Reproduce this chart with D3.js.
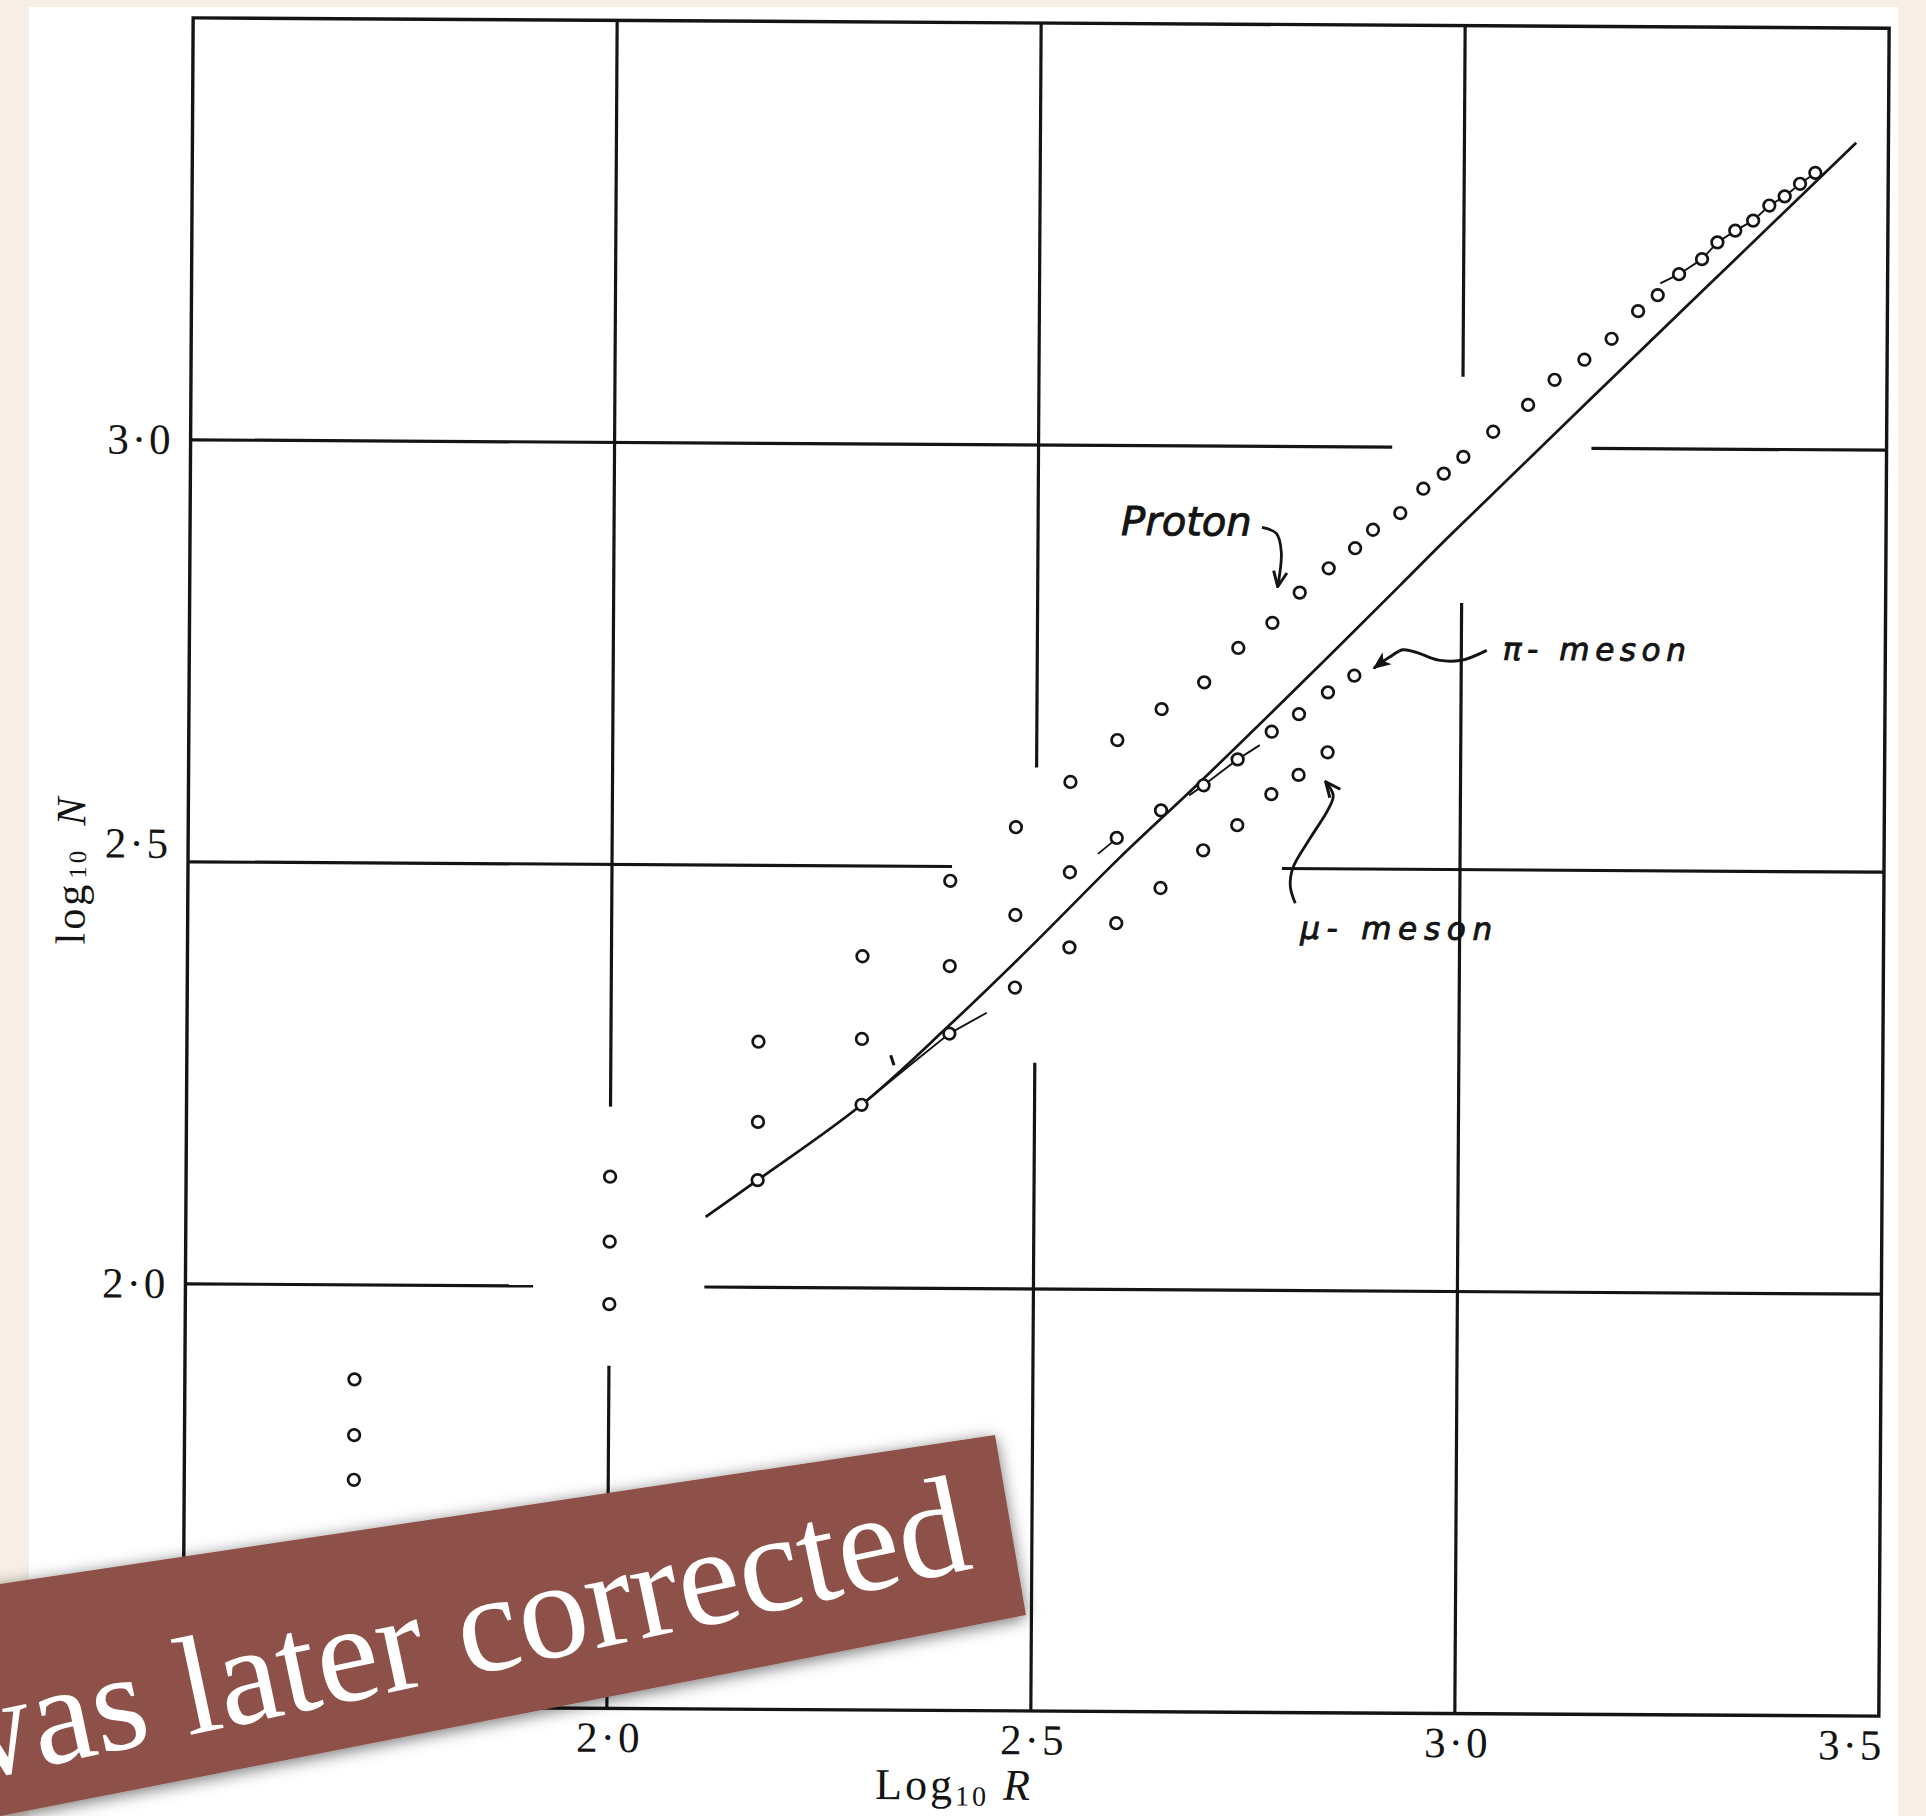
<!DOCTYPE html>
<html>
<head>
<meta charset="utf-8">
<script src="https://cdn.jsdelivr.net/npm/d3@7"></script>
<style>
  html, body { margin: 0; padding: 0; background: #f7efe5; }
  svg { display: block; }
</style>
</head>
<body>
<div id="chart"></div>
<script>
// values (log10 R, log10 N)
const rangeR = [1.70, 2.00, 2.174, 2.296, 2.399, 2.476, 2.540, 2.595, 2.647, 2.697, 2.737, 2.777, 2.809, 2.843, 2.874,
                2.895, 2.927, 2.954, 2.978, 3.001, 3.036, 3.077, 3.108, 3.143, 3.175, 3.206, 3.229, 3.254, 3.281,
                3.299, 3.320, 3.341, 3.360, 3.378, 3.396, 3.414];
const protonN = [1.888, 2.130, 2.291, 2.393, 2.483, 2.547, 2.601, 2.651, 2.688, 2.720, 2.761, 2.791, 2.827, 2.856, 2.880,
                 2.902, 2.922, 2.951, 2.969, 2.989, 3.019, 3.051, 3.081, 3.105, 3.130, 3.163, 3.182, 3.207, 3.225,
                 3.245, 3.259, 3.271, 3.289, 3.300, 3.315, 3.328];
const pionN = [1.822, 2.053, 2.196, 2.295, 2.382, 2.443, 2.494, 2.535, 2.568, 2.598, 2.629, 2.662, 2.683, 2.709, 2.729];
const muonN = [1.769, 1.979, 2.127, 2.217, 2.302, 2.357, 2.405, 2.434, 2.476, 2.521, 2.551, 2.588, 2.611, 2.638];

// the drawn range-number curve
const curveR = [2.113, 2.174, 2.296, 2.397, 2.494, 2.599, 2.695, 2.842, 2.927, 2.986, 3.146, 3.462];
const curveN = [2.083, 2.127, 2.217, 2.310, 2.405, 2.512, 2.604, 2.750, 2.836, 2.896, 3.054, 3.364];

// short thin pencil lines through some of the points
const thinLines = [
  [[2.296, 2.217], [2.356, 2.267], [2.399, 2.302], [2.443, 2.327]],
  [[2.573, 2.516], [2.597, 2.536]],
  [[2.680, 2.586], [2.697, 2.598], [2.737, 2.629], [2.763, 2.646]],
  [[3.232, 3.196], [3.254, 3.207], [3.281, 3.225], [3.299, 3.245], [3.320, 3.259], [3.341, 3.271],
   [3.360, 3.289], [3.378, 3.300], [3.396, 3.315], [3.414, 3.328]]
];
const tickMark = [[2.330, 2.276], [2.334, 2.264]];

const xTicks = [2.0, 2.5, 3.0, 3.5];
const yTicks = [2.0, 2.5, 3.0];
// grid lines are broken where the points sit
const gridX = [2.0, 2.5, 3.0];
const gridXGaps = [[1.906, 2.213], [2.268, 2.618], [2.816, 3.084]];
const gridY = [2.0, 2.5, 3.0];
const gridYGaps = [[1.910, 2.112], [2.401, 2.790], [2.917, 3.152]];

// hand-lettered labels and their arrows
const protonArrow = [[2.764, 2.904], [2.781, 2.897], [2.787, 2.875], [2.783, 2.834]];
const pionArrow = [[3.030, 2.760], [3.000, 2.748], [2.973, 2.748], [2.947, 2.757], [2.931, 2.760], [2.915, 2.751], [2.897, 2.738]];
const muonArrow = [[2.806, 2.459], [2.800, 2.479], [2.803, 2.501], [2.823, 2.536], [2.844, 2.570], [2.850, 2.587], [2.841, 2.603]];

const W = 1926, H = 1816;
const ink = "#141414";
const serif = "'Liberation Serif', 'DejaVu Serif', serif";
const hand = "'DejaVu Sans', sans-serif";

const svg = d3.select("#chart").append("svg").attr("width", W).attr("height", H);
const defs = svg.append("defs");

const shadow = defs.append("filter").attr("id", "shadow")
    .attr("x", "-10%").attr("y", "-40%").attr("width", "120%").attr("height", "180%");
shadow.append("feDropShadow").attr("dx", 0).attr("dy", 3).attr("stdDeviation", 8)
    .attr("flood-color", "#000").attr("flood-opacity", 0.55);

defs.append("marker").attr("id", "openHead")
    .attr("viewBox", "0 0 12 12").attr("refX", 11).attr("refY", 6)
    .attr("markerWidth", 18).attr("markerHeight", 18)
    .attr("markerUnits", "userSpaceOnUse").attr("orient", "auto")
  .append("path").attr("d", "M1,1.5 L11,6 L1,10.5")
    .attr("fill", "none").attr("stroke", ink).attr("stroke-width", 2);
defs.append("marker").attr("id", "solidHead")
    .attr("viewBox", "0 0 12 12").attr("refX", 11).attr("refY", 6)
    .attr("markerWidth", 18).attr("markerHeight", 18)
    .attr("markerUnits", "userSpaceOnUse").attr("orient", "auto")
  .append("path").attr("d", "M0,1 L12,6 L0,11 L3,6 Z").attr("fill", ink);

// paper
svg.append("rect").attr("width", W).attr("height", H).attr("fill", "#f7efe5");
svg.append("rect").attr("x", 29).attr("y", 7).attr("width", 1869).attr("height", H - 7).attr("fill", "#fff");

const x = d3.scaleLinear().domain([1.5, 3.5]).range([188, 1884]);
const y = d3.scaleLinear().domain([1.5, 3.5]).range([1711, 23]);

// the scan is slightly skewed
const plot = svg.append("g").attr("transform", "rotate(0.35,1036,867)");

plot.append("rect")
    .attr("x", x(1.5)).attr("y", y(3.5))
    .attr("width", x(3.5) - x(1.5)).attr("height", y(1.5) - y(3.5))
    .attr("fill", "none").attr("stroke", ink).attr("stroke-width", 3.4);

const grid = plot.append("g").attr("stroke", ink).attr("stroke-width", 3.2);
gridX.forEach((v, i) => {
  const [g0, g1] = gridXGaps[i];
  [[1.5, g0], [g1, 3.5]].forEach(([a, b]) => {
    grid.append("line").attr("x1", x(v)).attr("x2", x(v)).attr("y1", y(a)).attr("y2", y(b));
  });
});
gridY.forEach((v, i) => {
  const [g0, g1] = gridYGaps[i];
  [[1.5, g0], [g1, 3.5]].forEach(([a, b]) => {
    grid.append("line").attr("y1", y(v)).attr("y2", y(v)).attr("x1", x(a)).attr("x2", x(b));
  });
});

const line = d3.line().x(d => x(d[0])).y(d => y(d[1]));

plot.append("path")
    .datum(d3.zip(curveR, curveN))
    .attr("d", line.curve(d3.curveCatmullRom.alpha(0.5)))
    .attr("fill", "none").attr("stroke", ink).attr("stroke-width", 2.7);

plot.selectAll(".thin").data(thinLines).join("path")
    .attr("class", "thin")
    .attr("d", d3.line().x(d => x(d[0])).y(d => y(d[1])))
    .attr("fill", "none").attr("stroke", ink).attr("stroke-width", 1.9);

plot.append("path").datum(tickMark)
    .attr("d", d3.line().x(d => x(d[0])).y(d => y(d[1])))
    .attr("stroke", ink).attr("stroke-width", 3);

const points = [
  ...d3.zip(rangeR, protonN),
  ...d3.zip(rangeR, pionN),
  ...d3.zip(rangeR, muonN)
];
plot.selectAll(".pt").data(points).join("circle")
    .attr("class", "pt")
    .attr("cx", d => x(d[0])).attr("cy", d => y(d[1]))
    .attr("r", 5.8)
    .attr("fill", "#fff").attr("stroke", ink).attr("stroke-width", 2.7);

// axes (labels only, the frame is drawn above)
const fmt = d => d3.format(".1f")(d).replace(".", "·");

const yAxis = plot.append("g")
    .attr("transform", `translate(${x(1.5)},0)`)
    .call(d3.axisLeft(y).tickValues(yTicks).tickSize(0).tickPadding(17).tickFormat(fmt));
yAxis.select(".domain").remove();
yAxis.attr("font-family", serif).attr("font-size", 43);
yAxis.selectAll("text")
    .attr("fill", ink)
    .attr("dy", d => d === 2.5 ? "-0.1em" : "0.32em")
    .style("letter-spacing", "3px");

const xAxis = plot.append("g")
    .attr("transform", `translate(0,${y(1.5)})`)
    .call(d3.axisBottom(x).tickValues(xTicks).tickSize(0).tickPadding(13).tickFormat(fmt));
xAxis.select(".domain").remove();
xAxis.attr("font-family", serif).attr("font-size", 43);
xAxis.selectAll("text")
    .attr("fill", ink)
    .style("letter-spacing", "3px")
    .attr("text-anchor", d => d === 3.5 ? "end" : "middle")
    .attr("dx", d => d === 3.5 ? "0.12em" : "0.05em");

// axis titles
const xTitle = plot.append("text")
    .attr("x", x(2.41)).attr("y", y(1.5) + 89)
    .attr("text-anchor", "middle")
    .attr("font-family", serif).attr("font-size", 44).attr("fill", ink)
    .style("letter-spacing", "3px");
xTitle.append("tspan").text("Log");
xTitle.append("tspan").attr("font-size", 28).attr("dy", 6).text("10");
xTitle.append("tspan").attr("dy", -6).attr("dx", 14).attr("font-style", "italic").text("R");

const yTitle = plot.append("text")
    .attr("transform", `translate(85,${y(2.49)}) rotate(-90)`)
    .attr("text-anchor", "middle")
    .attr("font-family", serif).attr("font-size", 42).attr("fill", ink)
    .style("letter-spacing", "3px");
yTitle.append("tspan").text("log");
yTitle.append("tspan").attr("font-size", 25).attr("dy", 1).attr("dx", 3).text("10");
yTitle.append("tspan").attr("dy", -1).attr("dx", 22).attr("font-style", "italic").text("N");

// annotations
const note = plot.append("g")
    .attr("font-family", hand).attr("font-style", "italic")
    .attr("fill", ink).attr("stroke", ink).attr("stroke-width", 0.9);
note.append("text").attr("x", x(2.598)).attr("y", y(2.894)).attr("font-size", 40).text("Proton");
note.append("text").attr("x", x(3.049)).attr("y", y(2.749)).attr("font-size", 31)
    .attr("textLength", 183).attr("lengthAdjust", "spacing").text("π- meson");
note.append("text").attr("x", x(2.812)).attr("y", y(2.417)).attr("font-size", 31)
    .attr("textLength", 192).attr("lengthAdjust", "spacing").text("μ- meson");

const arrowLine = d3.line().x(d => x(d[0])).y(d => y(d[1])).curve(d3.curveCatmullRom.alpha(0.5));
plot.append("path").datum(protonArrow).attr("d", arrowLine)
    .attr("fill", "none").attr("stroke", ink).attr("stroke-width", 2.8).attr("marker-end", "url(#openHead)");
plot.append("path").datum(pionArrow).attr("d", arrowLine)
    .attr("fill", "none").attr("stroke", ink).attr("stroke-width", 3).attr("marker-end", "url(#solidHead)");
plot.append("path").datum(muonArrow).attr("d", arrowLine)
    .attr("fill", "none").attr("stroke", ink).attr("stroke-width", 2.8).attr("marker-end", "url(#openHead)");

// the ribbon laid over the plate (seen a little in perspective)
const banner = svg.append("g").attr("filter", "url(#shadow)");
banner.append("path")
    .attr("d", "M995,1435 L1026,1615 L-20,1820 L-20,1587 Z")
    .attr("fill", "#8e5148");
banner.append("text")
    .attr("transform", "translate(975,1568) rotate(-12)")
    .attr("text-anchor", "end")
    .attr("font-family", serif).attr("font-size", 140).attr("fill", "#fff")
    .text("was later corrected");
</script>
</body>
</html>
